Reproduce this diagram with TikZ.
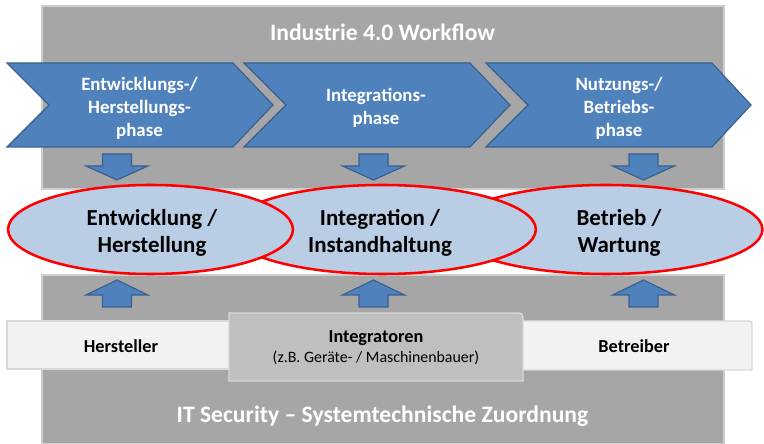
\documentclass[tikz,border=0pt]{standalone}
\usepackage{fontspec}
\setmainfont{Carlito}
\usepackage{tikz}
\usetikzlibrary{positioning,shapes.geometric}

\definecolor{phaseblue}{HTML}{4F81BD}
\definecolor{phaseline}{HTML}{3A5F8E}
\definecolor{stagefill}{HTML}{B9CDE5}
\definecolor{panelgray}{HTML}{A6A6A6}
\definecolor{panelline}{HTML}{CDCDCD}
\definecolor{rolelight}{HTML}{F2F2F2}
\definecolor{roledark}{HTML}{BFBFBF}
\definecolor{roleline}{HTML}{D9D9D9}

\begin{document}
\begin{tikzpicture}[x=0.025cm,y=-0.025cm,
	panel/.style={fill=panelgray,draw=panelline,line width=1pt},
	paneltitle/.style={text=white,font=\bfseries\fontsize{16.8}{19}\selectfont},
	phase/.style={fill=phaseblue,draw=phaseline,line width=0.8pt},
	phasetext/.style={text=white,align=center,font=\bfseries\fontsize{13.4}{16.3}\selectfont},
	blockarrow/.style={fill=phaseblue,draw=phaseline,line width=0.8pt},
	stagefield/.style={ellipse,draw=red,line width=1.8pt,fill=stagefill,inner sep=0pt,
		minimum height=2.225cm},
	stagetext/.style={align=center,font=\bfseries\fontsize{16.3}{19.2}\selectfont},
	role/.style={fill=rolelight,draw=roleline,line width=1pt},
	rolemid/.style={fill=roledark,draw=roleline,line width=1pt},
	roletext/.style={align=center,font=\bfseries\fontsize{13}{15}\selectfont}]
	\useasboundingbox (0,0) rectangle (764,444);
	
	% grey panels
	\draw[panel] (42,6) rectangle (724,189);
	\draw[panel] (42,275) rectangle (724,443.5);
	\node[paneltitle] (workflow) at (382.5,32.5) {Industrie 4.0 Workflow};
	\node[paneltitle] (security) at (382.5,416.5) {IT Security -- Systemtechnische Zuordnung};
	
	% phase chevrons
	\draw[phase] (7,63) -- (233,63) -- (273,105) -- (233,147) -- (7,147) -- (49,105) -- cycle;
	\draw[phase] (244,63) -- (470,63) -- (510,105) -- (470,147) -- (244,147) -- (286,105) -- cycle;
	\draw[phase] (486,63) -- (712,63) -- (751,105) -- (712,147) -- (486,147) -- (528,105) -- cycle;
	\node[phasetext] (ph_1) at (139.5,108) {Entwicklungs-/\\Herstellungs-\\phase};
	\node[phasetext] (ph_2) at (376,108) {Integrations-\\phase};
	\node[phasetext] (ph_3) at (619,108) {Nutzungs-/\\Betriebs-\\phase};
	
	% arrows down and up
	\draw[blockarrow,shift={(117,0)}] (-14.5,154) -- (14.5,154) -- (14.5,166) -- (31,166) -- (0,180) -- (-31,166) -- (-14.5,166) -- cycle;
	\draw[blockarrow,shift={(373.5,0)}] (-14.5,154) -- (14.5,154) -- (14.5,166) -- (31,166) -- (0,180) -- (-31,166) -- (-14.5,166) -- cycle;
	\draw[blockarrow,shift={(643.5,0)}] (-14.5,154) -- (14.5,154) -- (14.5,166) -- (31,166) -- (0,180) -- (-31,166) -- (-14.5,166) -- cycle;
	\draw[blockarrow,shift={(117,0)}] (0,280) -- (31,295) -- (14.5,295) -- (14.5,307) -- (-14.5,307) -- (-14.5,295) -- (-31,295) -- cycle;
	\draw[blockarrow,shift={(373.5,0)}] (0,280) -- (31,295) -- (14.5,295) -- (14.5,307) -- (-14.5,307) -- (-14.5,295) -- (-31,295) -- cycle;
	\draw[blockarrow,shift={(643.5,0)}] (0,280) -- (31,295) -- (14.5,295) -- (14.5,307) -- (-14.5,307) -- (-14.5,295) -- (-31,295) -- cycle;
	
	% stages
	\node[stagefield,minimum width=7.82cm] (betrieb) at (606,229.5) {};
	\node[stagefield,minimum width=7.69cm] (integration) at (382,229.5) {};
	\node[stagefield,minimum width=7.12cm] (entwicklung) at (150.5,229.5) {};
	\node[stagetext] (entwicklung_t) at (152,233) {Entwicklung /\\Herstellung};
	\node[stagetext] (integration_t) at (380,233) {Integration /\\Instandhaltung};
	\node[stagetext] (betrieb_t) at (619,233) {Betrieb /\\Wartung};
	
	% roles
	\draw[role] (7,321) rectangle (235,369);
	\draw[role] (517,321) -- (746,321) .. controls (752,321) .. (752,327) -- (752,370) -- (517,370) -- cycle;
	\draw[rolemid] (229,381) -- (229,313) -- (514,313) .. controls (523,313) .. (523,322) -- (523,381) -- cycle;
	\node[roletext] (hersteller) at (121,346) {Hersteller};
	\node[roletext] (integratoren) at (376,347.5) {Integratoren\\[-1pt]{\mdseries\fontsize{11.3}{13}\selectfont (z.B. Geräte- / Maschinenbauer)}};
	\node[roletext] (betreiber) at (634,346.5) {Betreiber};
\end{tikzpicture}
\end{document}
